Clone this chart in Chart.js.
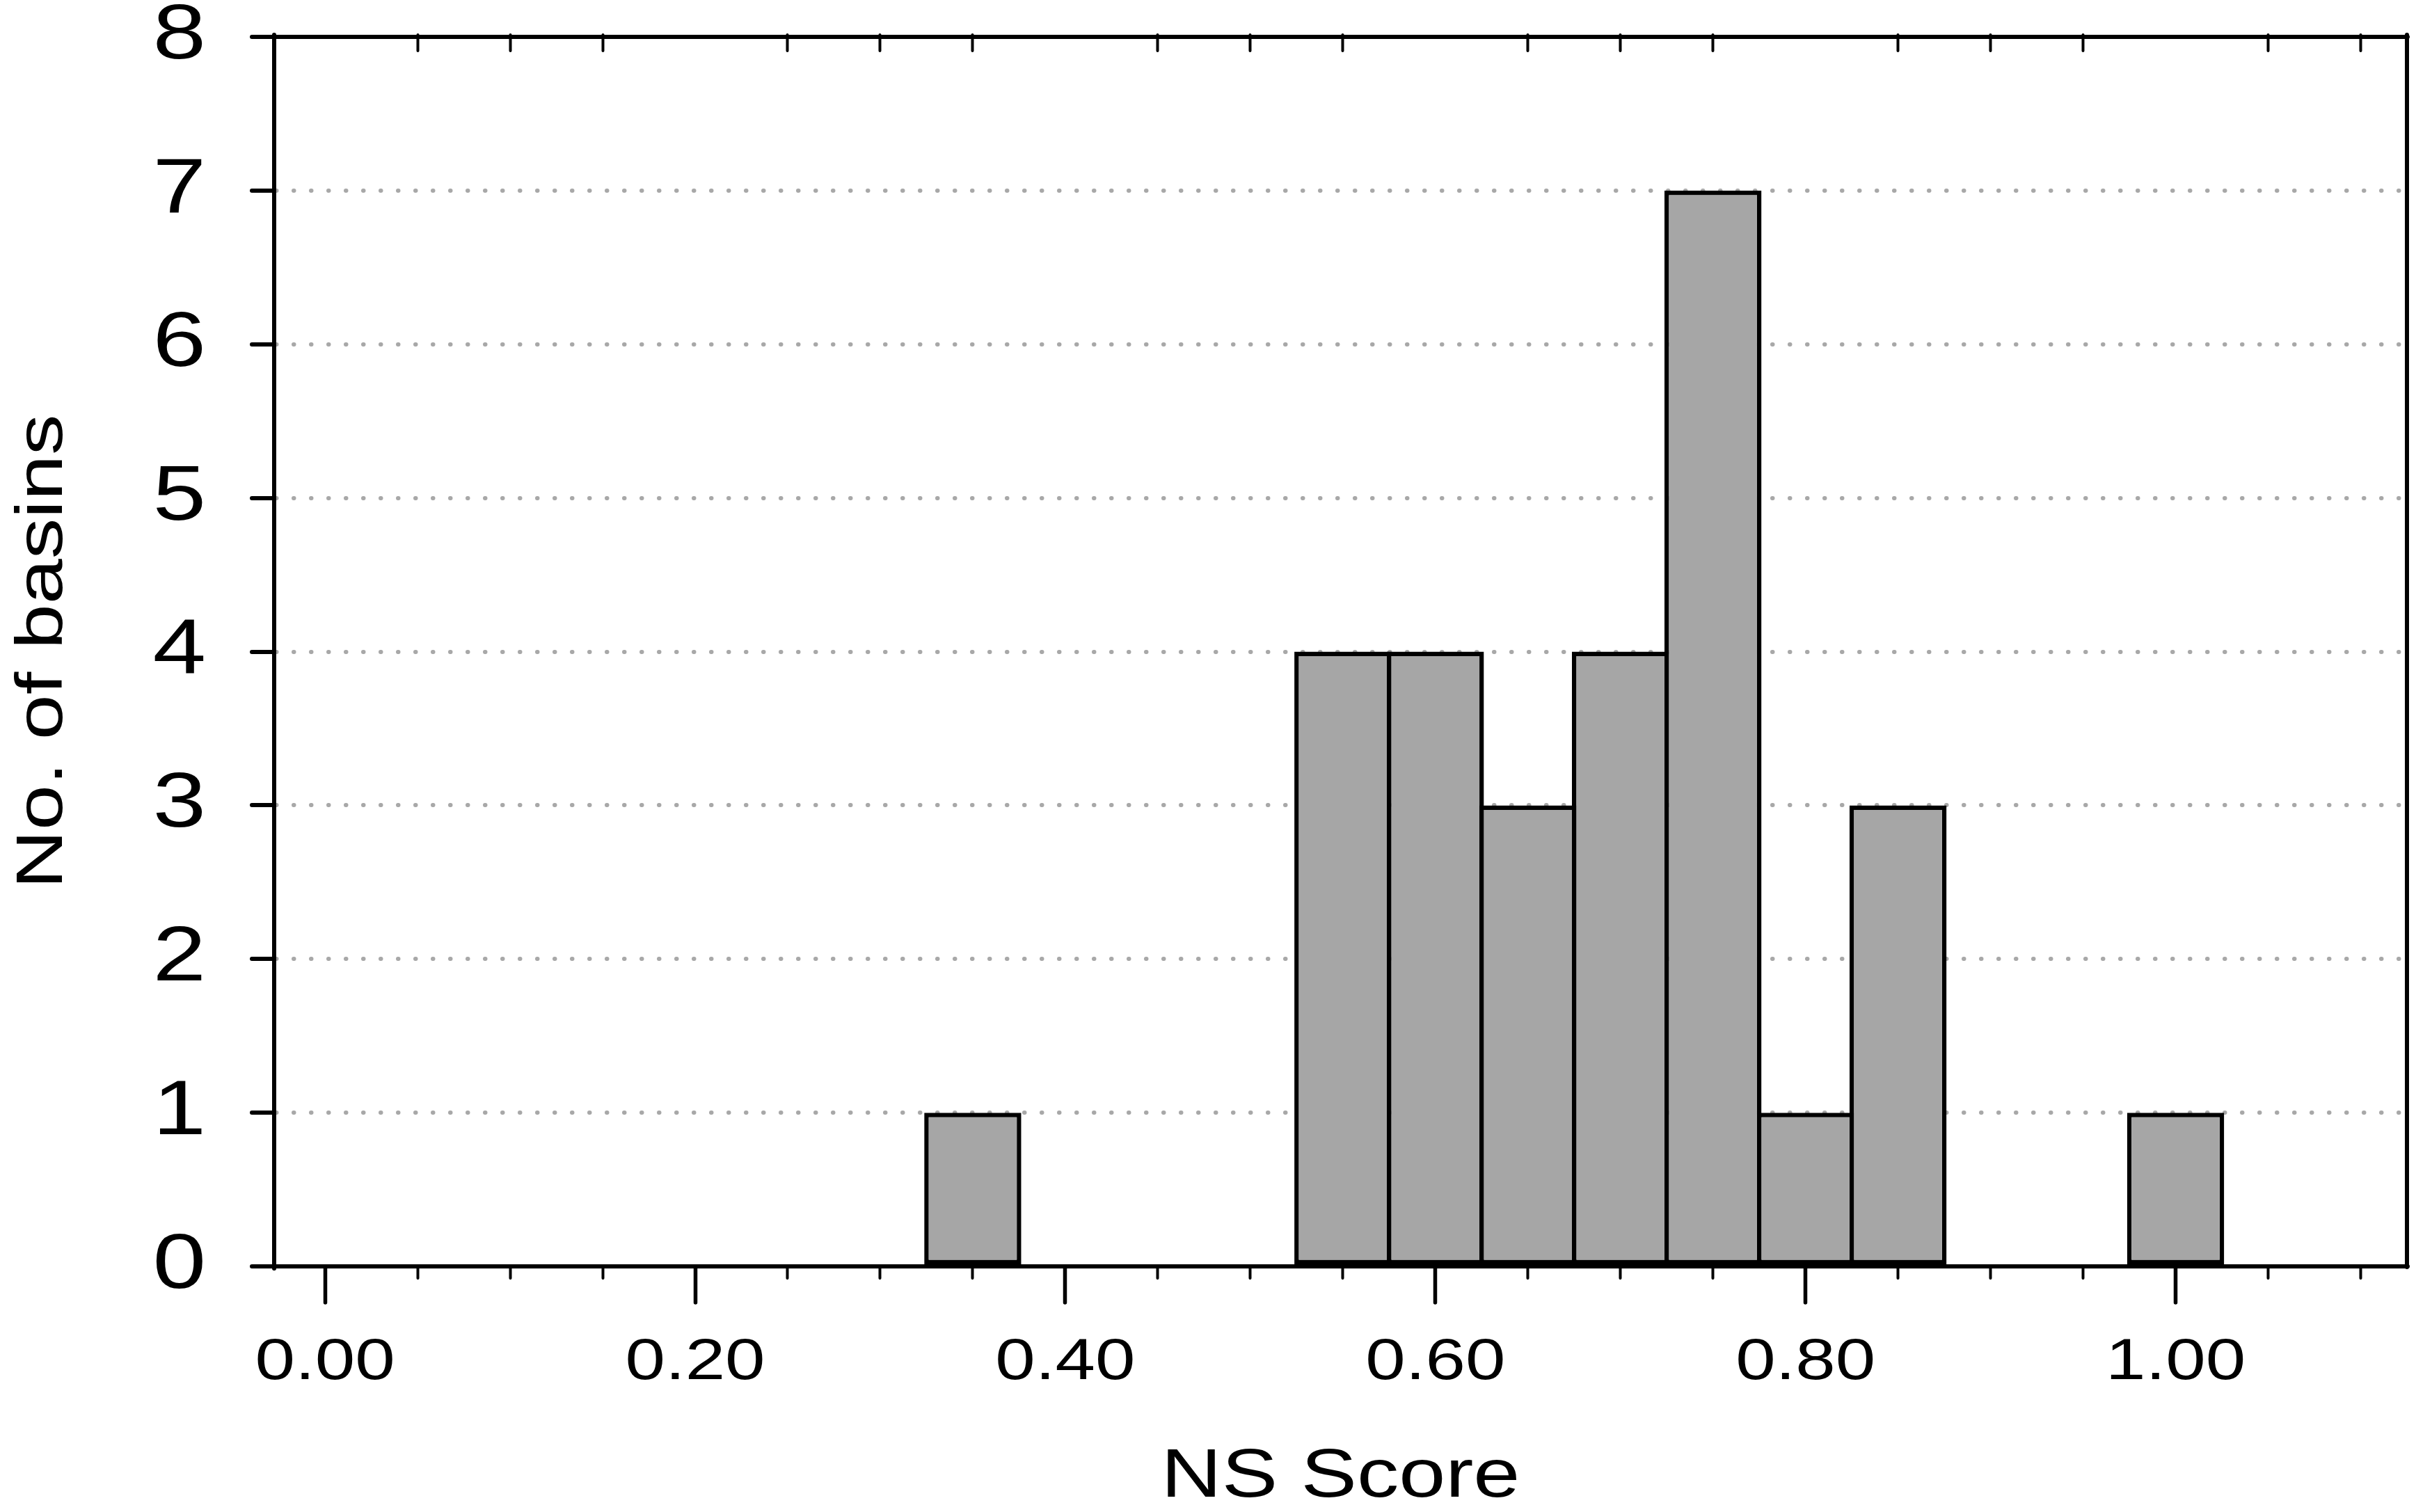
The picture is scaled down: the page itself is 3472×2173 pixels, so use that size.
<!DOCTYPE html>
<html>
<head>
<meta charset="utf-8">
<script src="https://cdn.jsdelivr.net/npm/chart.js@4/dist/chart.umd.min.js"></script>
<style>
html, body { margin: 0; padding: 0; background: #ffffff; }
canvas { display: block; }
</style>
</head>
<body>
<canvas id="c" width="3472" height="2173"></canvas>
<script>
// ---- data ----
const binCenters = [0.35, 0.55, 0.60, 0.65, 0.70, 0.75, 0.80, 0.85, 1.00];
const basinCounts = [1, 4, 4, 3, 4, 7, 1, 3, 1];

const xMajorTicks = [0.00, 0.20, 0.40, 0.60, 0.80, 1.00];
const xTickLabels = ['0.00', '0.20', '0.40', '0.60', '0.80', '1.00'];
const xMinorTicks = [0.00, 0.05, 0.10, 0.15, 0.20, 0.25, 0.30, 0.35, 0.40, 0.45, 0.50, 0.55,
                     0.60, 0.65, 0.70, 0.75, 0.80, 0.85, 0.90, 0.95, 1.00, 1.05, 1.10];
const xTopTicks = [0.05, 0.10, 0.15, 0.25, 0.30, 0.35, 0.45, 0.50, 0.55, 0.65, 0.70, 0.75,
                   0.85, 0.90, 0.95, 1.05, 1.10];
const yTicks = [0, 1, 2, 3, 4, 5, 6, 7, 8];
const yTickLabels = ['0', '1', '2', '3', '4', '5', '6', '7', '8'];

const xTitle = 'NS Score';
const yTitle = 'No. of basins';

// ---- style ----
const FONT = "'Liberation Sans', Arial, sans-serif";
const X_MIN = -0.0275, X_MAX = 1.125;
const TEXT_STRETCH = 1.23;

const canvas = document.getElementById('c');
const ctx = canvas.getContext('2d');
// text in the reference is horizontally widened; stretch each text run around its anchor
const origFillText = ctx.fillText.bind(ctx);
ctx.fillText = function (t, x, y, mw) {
  this.save();
  this.translate(x, y);
  this.scale(TEXT_STRETCH, 1);
  if (mw === undefined) origFillText(t, 0, 0); else origFillText(t, 0, 0, mw / TEXT_STRETCH);
  this.restore();
};

const roundCaps = {
  id: 'roundCaps',
  beforeDraw(chart) { chart.ctx.lineCap = 'round'; }
};

const noPad = s => { s.paddingTop = 0; s.paddingBottom = 0; s.paddingLeft = 0; s.paddingRight = 0; };

new Chart(ctx, {
  type: 'bar',
  data: {
    datasets: [{
      data: binCenters.map((x, i) => ({ x: x, y: basinCounts[i] })),
      xAxisID: 'x',
      yAxisID: 'y',
      backgroundColor: '#a6a6a6',
      borderColor: '#000000',
      borderWidth: 6.5,
      borderSkipped: false,
      barPercentage: 1.049,
      categoryPercentage: 1.0
    }]
  },
  options: {
    responsive: false,
    devicePixelRatio: 1,
    animation: false,
    layout: { padding: { top: 53, right: 13, bottom: 0, left: 0 }, autoPadding: false },
    plugins: { legend: { display: false }, tooltip: { enabled: false } },
    scales: {
      x: {
        type: 'linear', axis: 'x', position: 'bottom', weight: 0,
        min: X_MIN, max: X_MAX, offset: false,
        afterBuildTicks: s => { s.ticks = xMinorTicks.map(v => ({ value: v })); },
        afterFit: s => { s.height = 0; noPad(s); },
        ticks: { display: false },
        grid: { drawOnChartArea: false, drawTicks: true, offset: false,
                tickLength: 17, tickWidth: 4, tickColor: '#000000', tickBorderDash: [] },
        border: { display: true, color: '#000000', width: 6 }
      },
      xMajor: {
        type: 'linear', axis: 'x', position: 'bottom', weight: 1,
        min: X_MIN, max: X_MAX, offset: false,
        afterBuildTicks: s => { s.ticks = xMajorTicks.map(v => ({ value: v })); },
        afterFit: s => { s.height = 353; noPad(s); },
        ticks: {
          display: true, padding: 45, maxRotation: 0, minRotation: 0, autoSkip: false,
          color: '#000000', font: { family: FONT, size: 84, lineHeight: 1 },
          callback: (v, i) => xTickLabels[i]
        },
        grid: { drawOnChartArea: false, drawTicks: true, offset: false,
                tickLength: 52, tickWidth: 5.5, tickColor: '#000000', tickBorderDash: [] },
        border: { display: false },
        title: { display: true, text: xTitle, color: '#000000',
                 font: { family: FONT, size: 98, lineHeight: 1 }, padding: { top: 0, bottom: 0 } }
      },
      xTop: {
        type: 'linear', axis: 'x', position: 'top',
        min: X_MIN, max: X_MAX, offset: false,
        afterBuildTicks: s => { s.ticks = xTopTicks.map(v => ({ value: v })); },
        afterFit: s => { s.height = 0; noPad(s); },
        ticks: { display: false },
        grid: { drawOnChartArea: false, drawTicks: true, offset: false,
                tickLength: -20, tickWidth: 4, tickColor: '#000000', tickBorderDash: [] },
        border: { display: true, color: '#000000', width: 6 }
      },
      y: {
        type: 'linear', axis: 'y', position: 'left',
        min: 0, max: 8,
        afterBuildTicks: s => { s.ticks = yTicks.map(v => ({ value: v })); },
        afterFit: s => { s.width = 394; noPad(s); },
        ticks: {
          padding: 66, color: '#000000',
          font: { family: FONT, size: 112, lineHeight: 1 },
          callback: (v, i) => yTickLabels[i]
        },
        grid: {
          drawOnChartArea: true, drawTicks: true,
          color: c => (c.tick && (c.tick.value === 0 || c.tick.value === 8)) ? 'rgba(0,0,0,0)' : '#a8a8a8',
          lineWidth: 6,
          tickLength: 32, tickWidth: 6, tickColor: '#000000', tickBorderDash: []
        },
        border: { display: true, color: '#000000', width: 6, dash: [0.5, 24.5] },
        title: { display: true, text: yTitle, color: '#000000',
                 font: { family: FONT, size: 95, lineHeight: 1 }, padding: { top: 15, bottom: 0 } }
      },
      yRight: {
        type: 'linear', axis: 'y', position: 'right',
        min: 0, max: 8,
        afterFit: s => { s.width = 0; noPad(s); },
        ticks: { display: false },
        grid: { drawOnChartArea: false, drawTicks: false },
        border: { display: true, color: '#000000', width: 6 }
      }
    }
  },
  plugins: [roundCaps]
});
</script>
</body>
</html>
